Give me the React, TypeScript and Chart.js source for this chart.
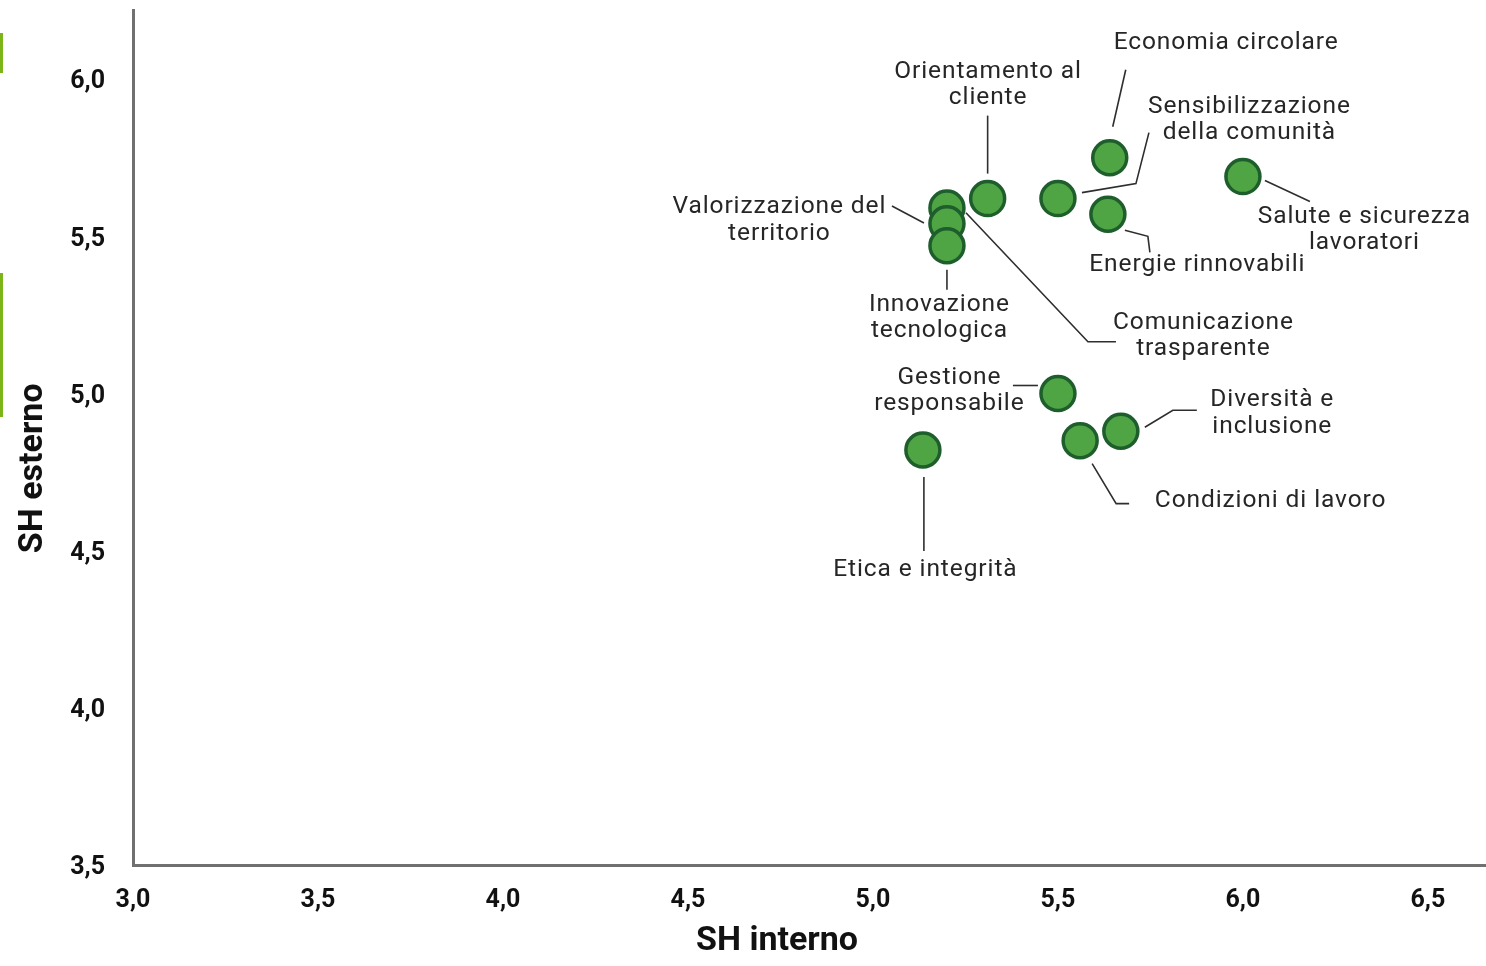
import React, { useEffect, useRef } from "react";
import { Chart, registerables } from "chart.js";

Chart.register(...registerables);

// ---- data ----
const categories: string[] = [
  "Economia circolare",
  "Salute e sicurezza\nlavoratori",
  "Orientamento al\ncliente",
  "Sensibilizzazione\ndella comunità",
  "Energie rinnovabili",
  "Valorizzazione del\nterritorio",
  "Comunicazione\ntrasparente",
  "Innovazione\ntecnologica",
  "Gestione\nresponsabile",
  "Diversità e\ninclusione",
  "Condizioni di lavoro",
  "Etica e integrità",
];
const shInterno: number[] = [5.64, 6.0, 5.31, 5.5, 5.635, 5.2, 5.2, 5.2, 5.5, 5.67, 5.56, 5.135];
const shEsterno: number[] = [5.75, 5.69, 5.62, 5.62, 5.57, 5.59, 5.54, 5.47, 5.0, 4.88, 4.85, 4.82];
const xTicks: number[] = [3.0, 3.5, 4.0, 4.5, 5.0, 5.5, 6.0, 6.5];
const yTicks: number[] = [3.5, 4.0, 4.5, 5.0, 5.5, 6.0];
const xTitle = "SH interno";
const yTitle = "SH esterno";

// ---- annotation layout (pixel offsets from each point) ----
type Lay = { tx: number; ty: number; leader: number[][] };
const labelLayout: Lay[] = [
  { tx: 116, ty: -115, leader: [[3, -31], [16, -88]] },
  { tx: 121, ty: 40, leader: [[22, 4], [67, 25]] },
  { tx: 0, ty: -127, leader: [[0, -83], [0, -25]] },
  { tx: 191, ty: -92, leader: [[24, -6], [78, -15], [91, -66]] },
  { tx: 89, ty: 51, leader: [[17, 16], [40, 22], [42, 38]] },
  { tx: -168, ty: -1, leader: [[-55, -2], [-23, 15]] },
  { tx: 256, ty: 99, leader: [[19, -11], [141, 118], [169, 118]] },
  { tx: -8, ty: 59, leader: [[0, 24], [0, 44]] },
  { tx: -109, ty: -16, leader: [[-45, -8], [-20, -8]] },
  { tx: 151, ty: -31, leader: [[24, -4], [52, -21], [76, -21]] },
  { tx: 190, ty: 60, leader: [[12, 23], [36, 63], [49, 63]] },
  { tx: 2, ty: 120, leader: [[1, 27], [1, 101]] },
];

const FONT = "Roboto, 'DejaVu Sans', sans-serif";
const fmt = (v: number) => v.toFixed(1).replace(".", ",");

const annotPlugin = {
  id: "annot",
  afterDatasetsDraw(chart: any) {
    const ctx = chart.ctx;
    const meta = chart.getDatasetMeta(0);
    ctx.save();
    ctx.strokeStyle = "#2e2e2e";
    ctx.lineWidth = 1.6;
    ctx.fillStyle = "#262626";
    ctx.font = `400 24.5px ${FONT}`;
    ctx.textAlign = "center";
    ctx.textBaseline = "middle";
    meta.data.forEach((el: any, i: number) => {
      const lay = labelLayout[i];
      if (!lay) return;
      const px = el.x;
      const py = el.y;
      ctx.beginPath();
      lay.leader.forEach((p, k) => {
        if (k === 0) ctx.moveTo(px + p[0], py + p[1]);
        else ctx.lineTo(px + p[0], py + p[1]);
      });
      ctx.stroke();
      const lines = categories[i].split("\n");
      (ctx as any).letterSpacing = "0.9px";
      lines.forEach((t, k) => {
        ctx.fillText(t, px + lay.tx + 0.45, py + lay.ty + k * 26.5);
      });
      (ctx as any).letterSpacing = "0px";
    });
    // axis titles
    const ca = chart.chartArea;
    ctx.fillStyle = "#111";
    ctx.font = `700 34px ${FONT}`;
    ctx.fillText(xTitle, ca.left + (ca.right - ca.left) * 0.476, 941);
    ctx.translate(33, ca.top + (ca.bottom - ca.top) * 0.536);
    ctx.rotate(-Math.PI / 2);
    ctx.fillText(yTitle, 0, 0);
    ctx.restore();
  },
};

export default function App() {
  const ref = useRef<HTMLCanvasElement | null>(null);
  useEffect(() => {
    document.body.style.margin = "0";
    if (!ref.current) return;
    const chart = new Chart(ref.current, {
      type: "scatter",
      data: {
        datasets: [
          {
            label: "Temi",
            data: shInterno.map((x, i) => ({ x, y: shEsterno[i] })),
            backgroundColor: "#4fa444",
            borderColor: "#1e5e2c",
            borderWidth: 3.5,
            pointRadius: 17,
            pointHoverRadius: 17,
          },
        ],
      },
      options: {
        responsive: false,
        animation: false,
        events: [],
        layout: { autoPadding: false, padding: { top: 10, right: 0, left: 0, bottom: 0 } },
        plugins: { legend: { display: false }, tooltip: { enabled: false } },
        scales: {
          x: {
            type: "linear",
            min: 3.0,
            max: 6.657,
            grid: { display: false, drawTicks: false },
            border: { display: true, color: "#707070", width: 3 },
            ticks: {
              color: "#111",
              font: { family: FONT, size: 25, weight: "bold" },
              padding: 21,
              callback: (v: any) => fmt(Number(v)),
            },
            afterBuildTicks: (s: any) => {
              s.ticks = xTicks.map((v) => ({ value: v }));
            },
            afterFit: (s: any) => {
              s.height = 101;
              s.paddingLeft = 0;
              s.paddingRight = 0;
            },
          },
          y: {
            type: "linear",
            min: 3.5,
            max: 6.22,
            grid: { display: false, drawTicks: false },
            border: { display: true, color: "#707070", width: 3 },
            ticks: {
              color: "#111",
              font: { family: FONT, size: 25, weight: "bold" },
              padding: 28,
              labelOffset: 3,
              callback: (v: any) => fmt(Number(v)),
            },
            afterBuildTicks: (s: any) => {
              s.ticks = yTicks.map((v) => ({ value: v }));
            },
            afterFit: (s: any) => {
              s.width = 133;
              s.paddingTop = 0;
              s.paddingBottom = 0;
            },
          },
        },
      } as any,
      plugins: [annotPlugin],
    });
    return () => chart.destroy();
  }, []);
  return (
    <div style={{ position: "absolute", left: 0, top: 0, width: 1486, height: 966, background: "#fff" }}>
      <canvas ref={ref} width={1486} height={966} style={{ width: 1486, height: 966, display: "block" }} />
      <div style={{ position: "absolute", left: 0, top: 33, width: 3, height: 40, background: "#7cb518" }} />
      <div style={{ position: "absolute", left: 0, top: 273, width: 3, height: 144, background: "#7cb518" }} />
    </div>
  );
}
